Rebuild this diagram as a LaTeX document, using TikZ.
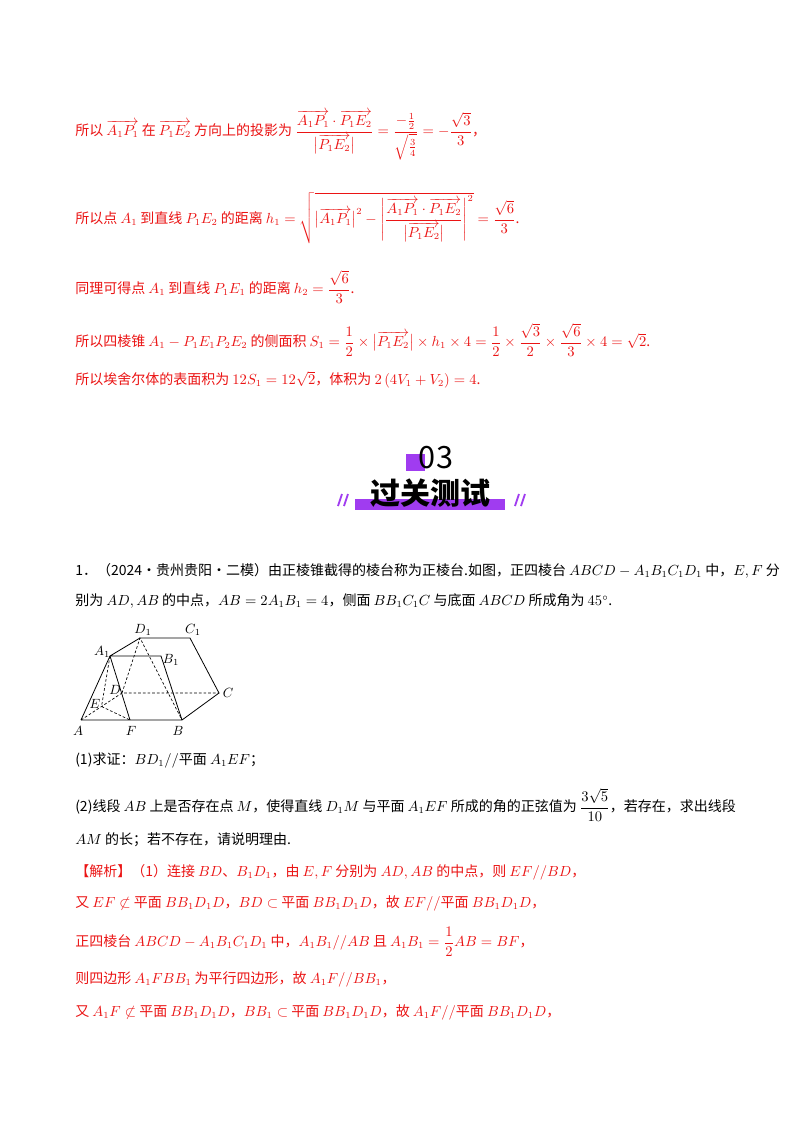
\documentclass[tikz,border=0pt]{standalone}
\usepackage{amsmath,amssymb}
\usepackage{fontspec}
\newfontfamily\cjk{Noto Sans CJK SC}
\definecolor{rd}{RGB}{235,20,20}
\definecolor{pu}{RGB}{160,60,240}
\begin{document}
\begin{tikzpicture}[x=0.75pt,y=-0.75pt,
  t/.style={anchor=west,inner sep=0,font=\cjk\fontsize{10.5}{12}\selectfont},
  r/.style={t,text=rd},
  sl/.style={line width=0.6pt},
  da/.style={line width=0.5pt,dashed,dash pattern=on 2pt off 1.5pt}]
\useasboundingbox (0,0) rectangle (800,1132);
\fill[white] (0,0) rectangle (800,1132);
\node[r] (l1) at (75,135) {所以 $\overrightarrow{A_1P_1}$ 在 $\overrightarrow{P_1E_2}$ 方向上的投影为 $\dfrac{\overrightarrow{A_1P_1}\cdot\overrightarrow{P_1E_2}}{\bigl|\overrightarrow{P_1E_2}\bigr|}=\dfrac{-\frac{1}{2}}{\sqrt{\frac{3}{4}}}=-\dfrac{\sqrt{3}}{3}$，};
\node[r] (l2) at (75,218) {所以点 $A_1$ 到直线 $P_1E_2$ 的距离 $h_1=\sqrt{\bigl|\overrightarrow{A_1P_1}\bigr|^2-\left|\dfrac{\overrightarrow{A_1P_1}\cdot\overrightarrow{P_1E_2}}{\bigl|\overrightarrow{P_1E_2}\bigr|}\right|^2}=\dfrac{\sqrt{6}}{3}$.};
\node[r] (l3) at (75,287) {同理可得点 $A_1$ 到直线 $P_1E_1$ 的距离 $h_2=\dfrac{\sqrt{6}}{3}$.};
\node[r] (l4) at (75,340) {所以四棱锥 $A_1-P_1E_1P_2E_2$ 的侧面积 $S_1=\dfrac{1}{2}\times\bigl|\overrightarrow{P_1E_2}\bigr|\times h_1\times 4=\dfrac{1}{2}\times\dfrac{\sqrt{3}}{2}\times\dfrac{\sqrt{6}}{3}\times4=\sqrt{2}$.};
\node[r] (l5) at (75,380) {所以埃舍尔体的表面积为 $12S_1=12\sqrt{2}$，体积为 $2\left(4V_1+V_2\right)=4$.};
% badge
\fill[pu] (406,454) rectangle (425,471);
\node[inner sep=0,font=\cjk\fontsize{23}{24}\selectfont] (n03) at (436,458) {03};
\fill[pu] (355,499) rectangle (505,510);
\node[inner sep=0,font=\cjk\bfseries\fontsize{22.5}{24}\selectfont] (ti) at (430,493) {过关测试};
\foreach \x in {338,344,515,521}{\draw[pu,line width=1.4pt] (\x,506) -- (\x+4,494);}
% problem
\node[t] (p1) at (75,571) {1．（2024·贵州贵阳·二模）由正棱锥截得的棱台称为正棱台.如图，正四棱台 $ABCD-A_1B_1C_1D_1$ 中，$E,F$ 分};
\node[t] (p2) at (75,601) {别为 $AD,AB$ 的中点，$AB=2A_1B_1=4$，侧面 $BB_1C_1C$ 与底面 $ABCD$ 所成角为 $45^\circ$.};
% figure
\coordinate (A) at (81,720); \coordinate (B) at (182,720); \coordinate (F) at (130,720);
\coordinate (C) at (219,693); \coordinate (D) at (122,693); \coordinate (E) at (101.5,706.5);
\coordinate (A1) at (110,656); \coordinate (B1) at (161,656); \coordinate (D1) at (140,638); \coordinate (C1) at (190,638);
\draw[sl] (A)--(B)--(C)--(C1)--(D1)--(A1)--(A) (A1)--(B1)--(B) (A1)--(F);
\draw[da] (A)--(D)--(C) (D)--(D1)--(B) (A1)--(E)--(F);
\begin{scope}[every node/.style={inner sep=0,font=\itshape\fontsize{10}{10}\selectfont}]
\node (lA) at (78,731) {$A$}; \node (lB) at (178,731) {$B$}; \node (lF) at (131,731) {$F$};
\node (lC) at (228,693) {$C$}; \node (lD) at (115,690) {$D$}; \node (lE) at (95,704) {$E$};
\node (lA1) at (102,652) {$A_1$}; \node (lB1) at (171,660) {$B_1$}; \node (lD1) at (143,630) {$D_1$}; \node (lC1) at (193,630) {$C_1$};
\end{scope}
\node[t] (q1) at (75,760) {(1)求证：$BD_1//$平面 $A_1EF$；};
\node[t] (q2) at (75,805) {(2)线段 $AB$ 上是否存在点 $M$，使得直线 $D_1M$ 与平面 $A_1EF$ 所成的角的正弦值为 $\dfrac{3\sqrt{5}}{10}$，若存在，求出线段};
\node[t] (q3) at (75,840) {$AM$ 的长；若不存在，请说明理由.};
\node[r] (s1) at (75,872) {【解析】（1）连接 $BD$、$B_1D_1$，由 $E,F$ 分别为 $AD,AB$ 的中点，则 $EF//BD$，};
\node[r] (s2) at (75,903) {又 $EF\not\subset$ 平面 $BB_1D_1D$，$BD\subset$ 平面 $BB_1D_1D$，故 $EF//$平面 $BB_1D_1D$，};
\node[r] (s3) at (75,942) {正四棱台 $ABCD-A_1B_1C_1D_1$ 中，$A_1B_1//AB$ 且 $A_1B_1=\dfrac{1}{2}AB=BF$，};
\node[r] (s4) at (75,979) {则四边形 $A_1FBB_1$ 为平行四边形，故 $A_1F//BB_1$，};
\node[r] (s5) at (75,1012) {又 $A_1F\not\subset$ 平面 $BB_1D_1D$，$BB_1\subset$ 平面 $BB_1D_1D$，故 $A_1F//$平面 $BB_1D_1D$，};
\end{tikzpicture}
\end{document}
